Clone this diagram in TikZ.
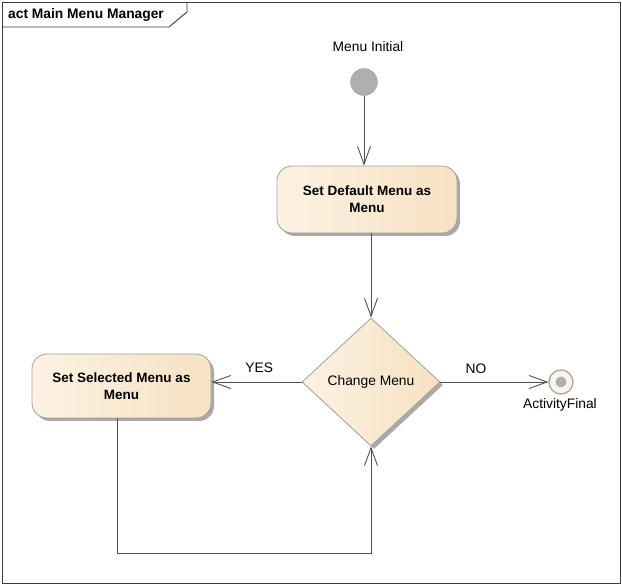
\documentclass[tikz,border=0pt]{standalone}
\usepackage{fontspec}
\setmainfont{Liberation Sans}
\usetikzlibrary{shapes.geometric,shadows,arrows.meta}

\definecolor{creamA}{HTML}{F4DFC2}
\definecolor{creamB}{HTML}{FDF4E8}
\definecolor{creamC}{HTML}{F4DAB2}
\definecolor{edgeGray}{HTML}{A0A0A0}
\definecolor{shadowGray}{HTML}{A9A9A9}
\definecolor{lineGray}{HTML}{505050}
\definecolor{frameGray}{HTML}{3A3A3A}
\definecolor{dotGray}{HTML}{AFAFAF}

\pgfdeclarehorizontalshading{eacream}{100bp}{color(0bp)=(creamA); color(16bp)=(creamB); color(100bp)=(creamC)}

\tikzset{
  basefont/.style={font=\fontsize{13.8}{17}\selectfont},
  action/.style={font=\fontsize{13.5}{17}\selectfont\bfseries,
    draw=edgeGray, line width=0.8pt, rounded corners=15pt, shading=eacream,
    align=center, inner sep=0pt,
    drop shadow={shadow xshift=3pt, shadow yshift=-3pt, fill=shadowGray, opacity=1}},
  decision/.style={basefont, diamond, draw=edgeGray, line width=0.8pt, shading=eacream,
    inner sep=0pt, aspect=1.06,
    drop shadow={shadow xshift=3pt, shadow yshift=-3pt, fill=shadowGray, opacity=1}},
  initial/.style={circle, fill=dotGray, draw=dotGray!85!black, line width=0.3pt,
    minimum size=27pt, inner sep=0pt},
  final/.style={circle, draw=edgeGray, line width=1.2pt, fill=creamB,
    minimum size=24pt, inner sep=0pt},
  finaldot/.style={circle, fill=dotGray, minimum size=11pt, inner sep=0pt},
  flow/.style={draw=lineGray, line width=0.9pt,
    -{Straight Barb[length=18pt, width=13pt, line width=0.9pt]}},
  caption/.style={basefont, inner sep=0pt},
  frame/.style={draw=frameGray, line width=0.9pt}
}

\begin{document}
\begin{tikzpicture}[x=1pt, y=-1pt]
  \useasboundingbox (0,0) rectangle (622,585);

  % diagram frame with its name tab
  \draw[frame] (2,2) rectangle (620,583);
  \draw[frame] (2,27) -- (169,27) -- (187,12) -- (187,2);
  \node[caption, anchor=west, font=\fontsize{13.8}{17}\selectfont\bfseries] (title) at (8,15) {act Main Menu Manager};

  % nodes
  \node[initial] (init) at (364,82) {};
  \node[caption] (initlbl) at (368,47) {Menu Initial};

  \node[action, minimum width=180pt, minimum height=67pt] (setdef) at (367,199.5) {Set Default Menu as\\Menu};

  \node[decision, minimum width=138pt, minimum height=128pt] (chg) at (371,382) {Change Menu};

  \node[action, minimum width=179pt, minimum height=64pt] (setsel) at (121.5,386) {Set Selected Menu as\\Menu};

  \node[final] (fin) at (561,382) {};
  \node[finaldot] (findot) at (fin.center) {};
  \node[caption] (finlbl) at (560,405) {ActivityFinal};

  % control flows
  \draw[flow] (init.south) -- (setdef.north -| init.south);
  \draw[flow] (setdef.south -| chg.north) -- (chg.north);
  \draw[flow] (chg.west) -- (chg.west -| setsel.east)
    node[caption, pos=0.47, yshift=14pt] (yeslbl) {YES};
  \draw[flow] (chg.east) -- (fin.west)
    node[caption, pos=0.33, yshift=13pt] (nolbl) {NO};
  \draw[flow] (setsel.south -| 117,0) -- (117,553) -| (chg.south);
\end{tikzpicture}
\end{document}
